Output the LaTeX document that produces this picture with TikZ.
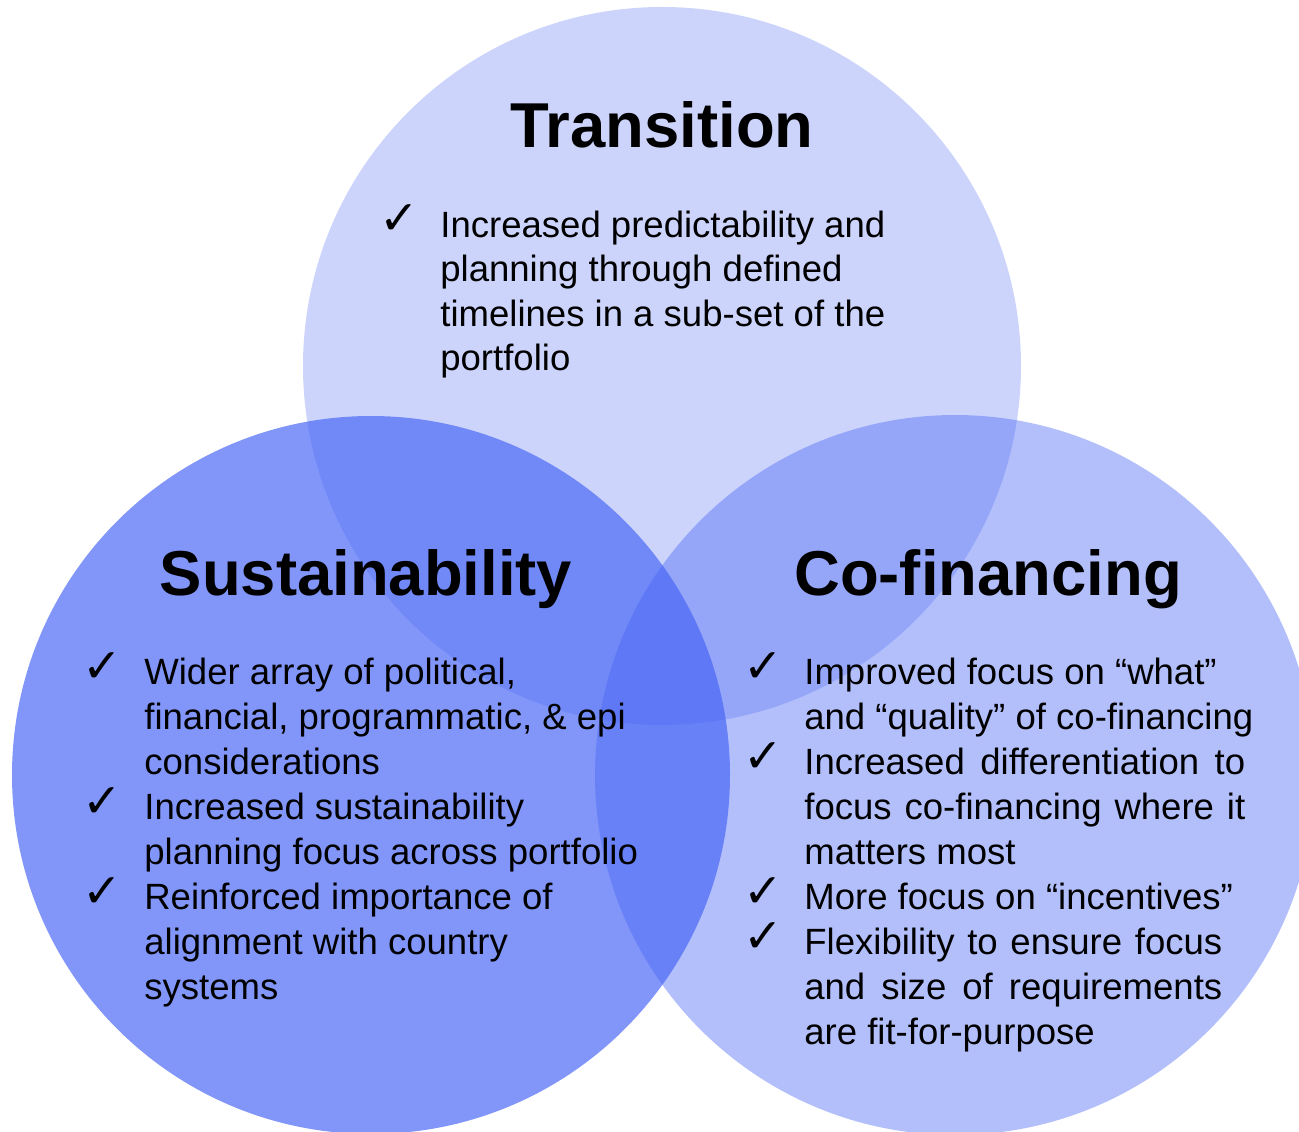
\documentclass[tikz,border=0pt]{standalone}
\usepackage{fontspec}
\setmainfont{Liberation Sans}
\newfontfamily\chkfont{DejaVu Sans}
\definecolor{vennblue}{RGB}{70,100,245}
\begin{document}
\begin{tikzpicture}[x=0.02cm,y=-0.02cm,
  venn/.style={fill=vennblue, fill opacity=#1},
  titletext/.style={font=\fontsize{36.1}{42}\selectfont\bfseries, inner sep=0pt, anchor=base},
  bodyline/.style={font=\fontsize{20.8}{25}\selectfont, inner sep=0pt, anchor=base west},
  tick/.style={font=\chkfont\bfseries\fontsize{27}{30}\selectfont, inner sep=0pt, anchor=base west}]
\useasboundingbox (0,0) rectangle (1299,1132);
% circles
\fill[venn=0.276] (662,366) circle[radius=359];
\fill[venn=0.68] (371,775) circle[radius=359];
\fill[venn=0.41] (955,775) circle[radius=360];
% titles
\node[titletext] (tT) at (662,148) {Transition};
\node[titletext] (tS) at (366,595) {Sustainability};
\node[titletext] (tC) at (988,595) {Co-financing};
% Transition
\node[tick] (k1) at (379,235) {✓};
\node[bodyline] (a1) at (440,237) {Increased predictability and};
\node[bodyline] (a2) at (440,281.5) {planning through defined};
\node[bodyline] (a3) at (440,326) {timelines in a sub-set of the};
\node[bodyline] (a4) at (440,370.5) {portfolio};
% Sustainability
\node[tick] (k2) at (82,682) {✓};
\node[tick] (k3) at (82,817) {✓};
\node[tick] (k4) at (82,907) {✓};
\node[bodyline] (b1) at (144,684) {Wider array of political,};
\node[bodyline] (b2) at (144,729) {financial, programmatic, \& epi};
\node[bodyline] (b3) at (144,774) {considerations};
\node[bodyline] (b4) at (144,819) {Increased sustainability};
\node[bodyline] (b5) at (144,864) {planning focus across portfolio};
\node[bodyline] (b6) at (144,909) {Reinforced importance of};
\node[bodyline] (b7) at (144,954) {alignment with country};
\node[bodyline] (b8) at (144,999) {systems};
% Co-financing
\node[tick] (k5) at (743,682) {✓};
\node[tick] (k6) at (743,772) {✓};
\node[tick] (k7) at (743,907) {✓};
\node[tick] (k8) at (743,952) {✓};
\node[bodyline] (c1) at (804,684) {Improved focus on “what”};
\node[bodyline] (c2) at (804,729) {and “quality” of co-financing};
\node[bodyline] (c3) at (804,774) {\makebox[8.82cm][s]{Increased differentiation to}};
\node[bodyline] (c4) at (804,819) {\makebox[8.82cm][s]{focus co-financing where it}};
\node[bodyline] (c5) at (804,864) {matters most};
\node[bodyline] (c6) at (804,909) {More focus on “incentives”};
\node[bodyline] (c7) at (804,954) {\makebox[8.36cm][s]{Flexibility to ensure focus}};
\node[bodyline] (c8) at (804,999) {\makebox[8.36cm][s]{and size of requirements}};
\node[bodyline] (c9) at (804,1044) {are fit-for-purpose};
\end{tikzpicture}
\end{document}
